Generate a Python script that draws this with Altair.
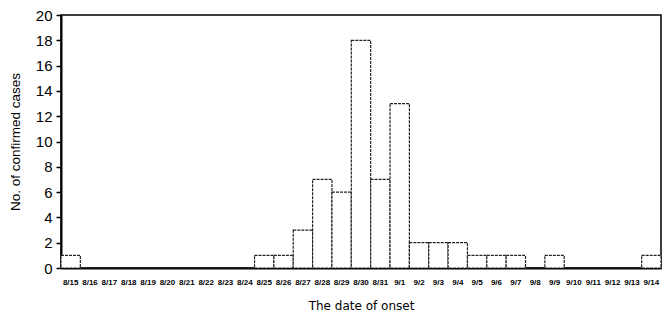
import altair as alt
import pandas as pd

dates = ["8/15","8/16","8/17","8/18","8/19","8/20","8/21","8/22","8/23","8/24",
         "8/25","8/26","8/27","8/28","8/29","8/30","8/31","9/1","9/2","9/3",
         "9/4","9/5","9/6","9/7","9/8","9/9","9/10","9/11","9/12","9/13","9/14"]
cases = [1,0,0,0,0,0,0,0,0,0,
         1,1,3,7,6,18,7,13,2,2,
         2,1,1,1,0,1,0,0,0,0,1]

df = pd.DataFrame({"date": dates, "cases": cases})

chart = alt.Chart(df).mark_bar(
    fill="white", stroke="#222", strokeWidth=1.2, strokeDash=[3, 1]
).encode(
    x=alt.X("date:N", sort=dates,
            scale=alt.Scale(paddingInner=0, paddingOuter=0),
            axis=alt.Axis(title="The date of onset", labelAngle=0, labelFontSize=8,
                          labelFont="Liberation Sans", labelFontWeight="bold",
                          labelOverlap=False, ticks=False, labelPadding=10,
                          titleFont="DejaVu Sans", titleFontSize=12, titleFontWeight="normal",
                          titlePadding=14, domainColor="black", domainWidth=2,
                          labelColor="black", titleColor="black")),
    y=alt.Y("cases:Q", scale=alt.Scale(domain=[0, 20]),
            axis=alt.Axis(title="No. of confirmed cases", values=list(range(0, 21, 2)),
                          grid=False, labelFontSize=15, labelFont="Liberation Sans",
                          labelPadding=4,
                          titleFont="Liberation Sans", titleFontSize=13.5, titleFontWeight="normal",
                          tickSize=5, tickColor="black", tickWidth=1.5, domainColor="black",
                          domainWidth=2, labelColor="black", titleColor="black", titlePadding=13)),
).properties(
    width=600, height=253,
    padding={"left": 0, "right": 0, "top": 0, "bottom": 0}
).configure_view(
    stroke="black", strokeWidth=1.5
)

chart.save("out.html", embed_options={"renderer": "svg", "actions": False})
